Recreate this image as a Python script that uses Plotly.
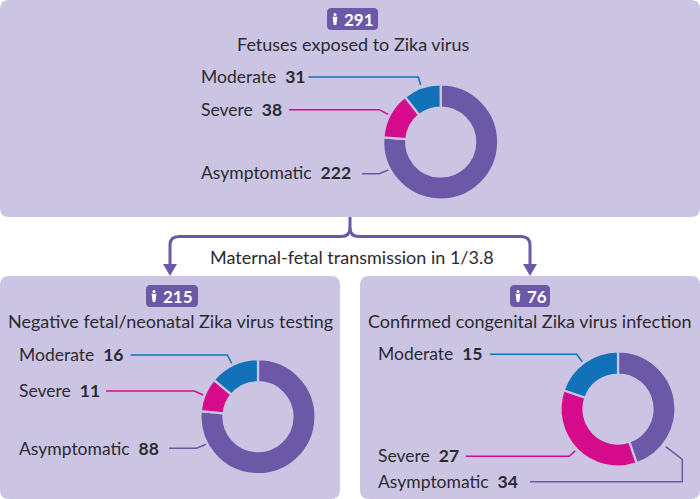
import plotly.graph_objects as go

W, H = 700, 499
BG, PURPLE, PINK, BLUE, INK = "#cbc5e3", "#6b59a7", "#d60b8c", "#1172ba", "#2b2a30"
FONT = "Lato"

categories = ["Asymptomatic", "Severe", "Moderate"]
top_values = [222, 38, 31]
left_values = [88, 11, 16]
right_values = [34, 27, 15]
totals = [291, 215, 76]
titles = ["Fetuses exposed to Zika virus",
          "Negative fetal/neonatal Zika virus testing",
          "Confirmed congenital Zika virus infection"]
transmission = "Maternal-fetal transmission in 1/3.8"


def px(x):
    return x / W


def py(y):
    return 1 - y / H


def rpath(x0, y0, x1, y1, r):
    return (f"M{px(x0+r)},{py(y0)} L{px(x1-r)},{py(y0)} Q{px(x1)},{py(y0)} {px(x1)},{py(y0+r)} "
            f"L{px(x1)},{py(y1-r)} Q{px(x1)},{py(y1)} {px(x1-r)},{py(y1)} "
            f"L{px(x0+r)},{py(y1)} Q{px(x0)},{py(y1)} {px(x0)},{py(y1-r)} "
            f"L{px(x0)},{py(y0+r)} Q{px(x0)},{py(y0)} {px(x0+r)},{py(y0)} Z")


def poly(points):
    return "M" + " L".join(f"{px(x)},{py(y)}" for x, y in points)


shapes = []


def add_path(path, fill=None, line=None, width=0):
    shapes.append(dict(type="path", xref="paper", yref="paper", path=path, layer="below",
                       fillcolor=fill or "rgba(0,0,0,0)",
                       line=dict(color=line or "rgba(0,0,0,0)", width=width)))


for box in [(0, 0, 700, 217), (0, 276, 340, 499), (360, 276, 700, 499)]:
    add_path(rpath(*box, 9), fill=BG)

# connector and arrowheads
add_path(f"M{px(350)},{py(217)} L{px(350)},{py(228)} Q{px(350)},{py(236.5)} {px(341)},{py(236.5)} "
         f"L{px(179)},{py(236.5)} Q{px(170)},{py(236.5)} {px(170)},{py(245)} L{px(170)},{py(266)}",
         line=PURPLE, width=3)
add_path(f"M{px(350)},{py(228)} Q{px(350)},{py(236.5)} {px(359)},{py(236.5)} "
         f"L{px(521)},{py(236.5)} Q{px(530)},{py(236.5)} {px(530)},{py(245)} L{px(530)},{py(266)}",
         line=PURPLE, width=3)
for ax in (170, 530):
    add_path(poly([(ax - 7, 264), (ax + 7, 264), (ax, 276)]) + " Z", fill=PURPLE)

annotations = []


def text(x, y, s, anchor="left", size=18, color=INK):
    annotations.append(dict(x=px(x), y=py(y), xref="paper", yref="paper", text=s, showarrow=False,
                            xanchor=anchor, yanchor="middle", align=anchor,
                            font=dict(family=FONT, size=size, color=color), borderpad=0))


text(352, 257, transmission, "center")

panels = [
    dict(values=top_values, total=totals[0], title=titles[0], cx=440.7, cy=142, r=57.5,
         title_x=353, title_y=44, badge=(327, 8, 378, 30), label_x=200,
         label_y=[172.5, 109, 76.5],
         leaders=[[(362, 173.7), (379, 173.7), (388.3, 170)],
                  [(289, 109.7), (379, 109.7), (388.3, 114.3)],
                  [(308.3, 77), (418.3, 77), (420.7, 85)]]),
    dict(values=left_values, total=totals[1], title=titles[1], cx=258, cy=416.7, r=57.5,
         title_x=170.5, title_y=321, badge=(146, 285, 198, 307), label_x=18,
         label_y=[448.5, 390.5, 354.5],
         leaders=[[(169, 448.3), (196.7, 448.3), (206, 444.3)],
                  [(106, 391), (194.3, 391), (203.3, 395)],
                  [(130.7, 355), (227.3, 355), (231.7, 363.3)]]),
    dict(values=right_values, total=totals[2], title=titles[2], cx=618, cy=409, r=57.5,
         title_x=529.5, title_y=321, badge=(510, 285, 550, 307), label_x=377,
         label_y=[481.5, 455.5, 353.5],
         leaders=[[(530, 481.7), (682.3, 481.7), (682.3, 459.3), (665.7, 446.7)],
                  [(465.7, 456.3), (569.3, 456.3), (575.3, 450.7)],
                  [(490, 354.3), (576.7, 354.3), (582.3, 361.7)]]),
]

colors = [PURPLE, PINK, BLUE]
fig = go.Figure()
for p in panels:
    fig.add_trace(go.Pie(
        labels=categories, values=p["values"], sort=False, direction="clockwise", rotation=0,
        hole=0.6, textinfo="none", showlegend=False,
        marker=dict(colors=colors, line=dict(color=BG, width=2.2)),
        domain=dict(x=[px(p["cx"] - p["r"]), px(p["cx"] + p["r"])],
                    y=[py(p["cy"] + p["r"]), py(p["cy"] - p["r"])]),
    ))
    text(p["title_x"], p["title_y"], p["title"], "center")
    for name, val, ly, pts, col in zip(categories, p["values"], p["label_y"], p["leaders"], colors):
        text(p["label_x"], ly, f"{name}\u00a0\u00a0<b>{val}</b>", size=17.5)
        add_path(poly(pts), line=col, width=1.5)
    # count badge with a person glyph
    x0, y0, x1, y1 = p["badge"]
    add_path(rpath(x0, y0, x1, y1, 4.5), fill=PURPLE)
    ix = x0 + 8
    iy = y0 + 5.5
    shapes.append(dict(type="circle", xref="paper", yref="paper", layer="above",
                       x0=px(ix - 1.5), x1=px(ix + 1.5), y0=py(iy + 2.6), y1=py(iy - 0.4),
                       fillcolor="white", line=dict(width=0)))
    shapes.append(dict(type="path", xref="paper", yref="paper", layer="above",
                       path=poly([(ix - 2.4, iy + 3.2), (ix + 2.4, iy + 3.2), (ix + 1.8, iy + 8),
                                  (ix + 1.2, iy + 11.5), (ix - 1.2, iy + 11.5), (ix - 1.8, iy + 8)]) + " Z",
                       fillcolor="white", line=dict(width=0)))
    text(x0 + 15.5, (y0 + y1) / 2, f"<b>{p['total']}</b>", "left", 17, "white")

fig.update_layout(width=W, height=H, margin=dict(l=0, r=0, t=0, b=0), paper_bgcolor="white",
                  plot_bgcolor="white", shapes=shapes, annotations=annotations,
                  font=dict(family=FONT))
fig.write_html("out.html", config=dict(displayModeBar=False),
               post_script="document.body.style.margin='0';")
